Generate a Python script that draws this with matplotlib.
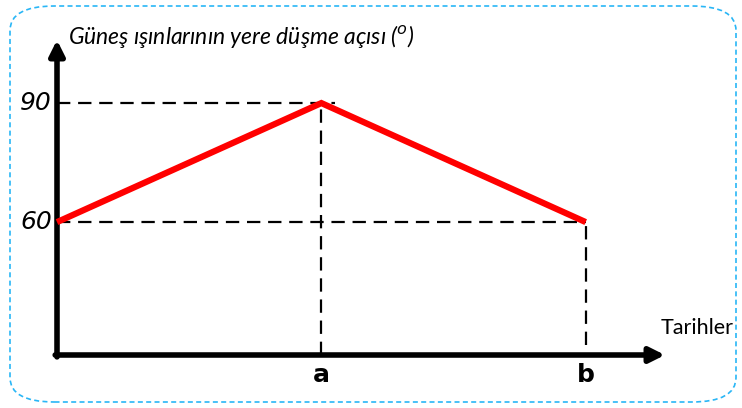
import matplotlib.pyplot as plt
from matplotlib.patches import FancyBboxPatch

# Tarih kategorileri ve açı değerleri
tarihler = ['', 'a', 'b']
tarih_konum = [0, 1, 2]
acilar = [60, 90, 60]
y_etiketleri = [60, 90]

fig = plt.figure(figsize=(7.42, 4.08), dpi=100)

# Kesikli mavi çerçeve
cerceve = FancyBboxPatch((10 / 742, 6 / 408), 726 / 742, 396 / 408,
                         boxstyle="round,pad=0,rounding_size=0.06",
                         transform=fig.transFigure, fill=False,
                         edgecolor='#29b6f6', linestyle=(0, (3, 2)), linewidth=1.2)
fig.patches.append(cerceve)

ax = fig.add_axes([57 / 742, 53 / 408, 608 / 742, 315 / 408])
ax.set_xlim(0, 2.30)
ax.set_ylim(26.5, 105.9)
ax.axis('off')

# Eksen okları
ok = dict(arrowstyle='-|>,head_length=0.9,head_width=0.45', color='black', lw=4,
          shrinkA=0, shrinkB=0)
ax.annotate('', xy=(0, 1), xytext=(0, -0.006), xycoords='axes fraction', arrowprops=ok)
ax.annotate('', xy=(1, 0), xytext=(-0.003, 0), xycoords='axes fraction', arrowprops=ok)

# Kesikli yardımcı çizgiler
kesik = dict(color='black', linestyle=(0, (6, 3.5)), linewidth=1.6, clip_on=False)
ax.plot([0, tarih_konum[1] + 0.05], [acilar[1], acilar[1]], **kesik)
ax.plot([tarih_konum[1], tarih_konum[1]], [26.5, acilar[1]], **kesik)
ax.plot([0, tarih_konum[2]], [acilar[0], acilar[2]], **kesik)
ax.plot([tarih_konum[2], tarih_konum[2]], [29, acilar[2]], **kesik)

# Açı değişimi
ax.plot(tarih_konum, acilar, color='#ff0000', linewidth=4.5, solid_capstyle='butt',
        solid_joinstyle='miter', clip_on=False, zorder=5)

for deger in y_etiketleri:
    ax.text(-0.02, deger, str(deger), ha='right', va='center', fontsize=18,
            family='DejaVu Sans', style='italic')

for x, ad in zip(tarih_konum[1:], tarihler[1:]):
    ax.text(x, 21.5, ad, ha='center', va='center', fontsize=18,
            fontweight='bold', family='DejaVu Sans')

fig.text(68 / 742, 1 - 36 / 408, 'Güneş ışınlarının yere düşme açısı ($^o$)',
         ha='left', va='center', fontsize=16.5, style='italic', family='Lato')
fig.text(697 / 742, 1 - 328 / 408, 'Tarihler', ha='center', va='center',
         fontsize=15.5, family='Lato')

fig.savefig('out.png', dpi=100)
